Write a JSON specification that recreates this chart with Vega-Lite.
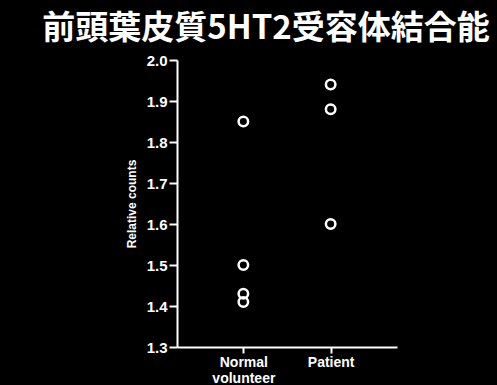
{
  "$schema": "https://vega.github.io/schema/vega-lite/v6.json",
  "width": 220,
  "height": 287,
  "autosize": {"type": "none"},
  "padding": {"left": 177, "top": 60, "right": 100, "bottom": 38},
  "background": "black",
  "title": {
    "text": "前頭葉皮質5HT2受容体結合能",
    "color": "white",
    "font": "Noto Sans CJK JP",
    "fontWeight": "bold",
    "fontSize": 33,
    "anchor": "middle",
    "frame": "group",
    "dx": -21,
    "offset": 7
  },
  "data": {
    "values": [
      {"group": "Normal volunteer", "value": 1.85},
      {"group": "Normal volunteer", "value": 1.50},
      {"group": "Normal volunteer", "value": 1.43},
      {"group": "Normal volunteer", "value": 1.41},
      {"group": "Patient", "value": 1.94},
      {"group": "Patient", "value": 1.88},
      {"group": "Patient", "value": 1.60}
    ]
  },
  "mark": {"type": "point", "shape": "circle", "filled": false, "color": "white", "strokeWidth": 2.5, "size": 90, "opacity": 1},
  "encoding": {
    "x": {
      "field": "group",
      "type": "nominal",
      "sort": null,
      "scale": {"type": "point", "padding": 0.76},
      "axis": {
        "title": null,
        "labelAngle": 0,
        "labelExpr": "datum.label == 'Normal volunteer' ? ['Normal', 'volunteer'] : datum.label",
        "labelFont": "Liberation Sans",
        "labelFontWeight": "bold",
        "labelFontSize": 14,
        "labelColor": "white",
        "labelPadding": 2,
        "labelLineHeight": 16,
        "domainColor": "white",
        "domainWidth": 2,
        "tickColor": "white",
        "tickWidth": 2,
        "tickSize": 6,
        "grid": false
      }
    },
    "y": {
      "field": "value",
      "type": "quantitative",
      "scale": {"domain": [1.3, 2.0], "zero": false, "nice": false},
      "axis": {
        "title": "Relative counts",
        "titleFont": "Liberation Sans",
        "titleFontWeight": "bold",
        "titleFontSize": 12,
        "titleColor": "white",
        "titlePadding": 8,
        "values": [1.3, 1.4, 1.5, 1.6, 1.7, 1.8, 1.9, 2.0],
        "format": ".1f",
        "labelFont": "Liberation Sans",
        "labelFontWeight": "bold",
        "labelFontSize": 15,
        "labelColor": "white",
        "labelPadding": 2,
        "domainColor": "white",
        "domainWidth": 2,
        "tickColor": "white",
        "tickWidth": 2,
        "tickSize": 8,
        "grid": false
      }
    }
  },
  "config": {"view": {"stroke": null}}
}
